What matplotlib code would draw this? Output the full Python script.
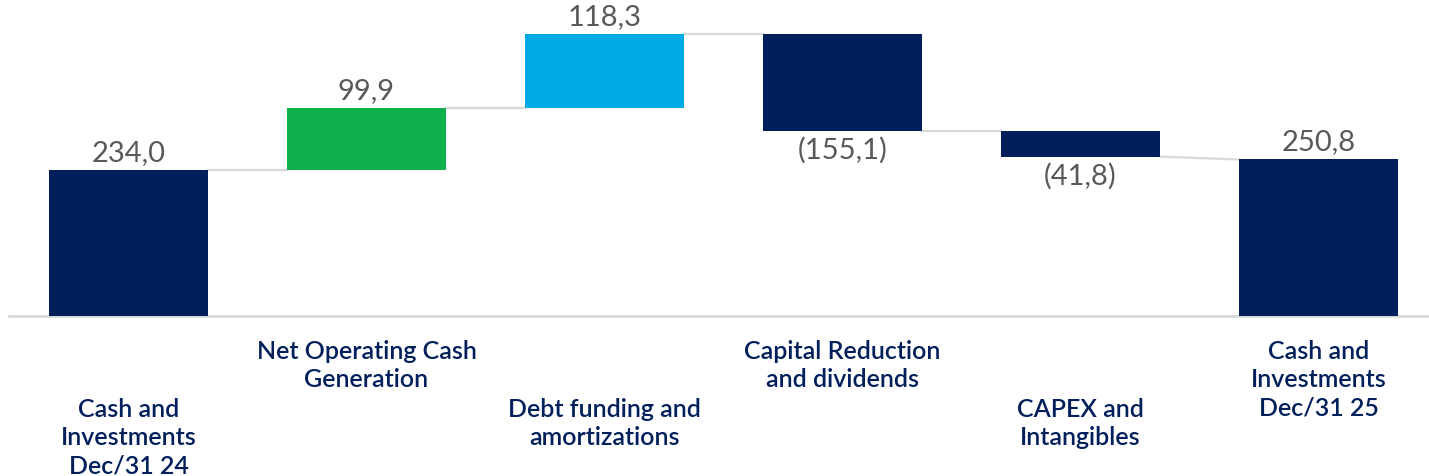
import matplotlib.pyplot as plt
import matplotlib.transforms as mtransforms

categories = ['Cash and\nInvestments\nDec/31 24', 'Net Operating Cash\nGeneration',
              'Debt funding and\namortizations', 'Capital Reduction\nand dividends',
              'CAPEX and\nIntangibles', 'Cash and\nInvestments\nDec/31 25']
values = [234.0, 99.9, 118.3, -155.1, -41.8, 250.8]
labels = ['234,0', '99,9', '118,3', '(155,1)', '(41,8)', '250,8']
is_total = [True, False, False, False, False, True]
colors = ['#001F5B', '#0DB04B', '#00AAE4', '#001F5B', '#001F5B', '#001F5B']

plt.rcParams['font.family'] = ['Lato', 'DejaVu Sans']

fig = plt.figure(figsize=(14.29, 4.77), dpi=100)
ax = fig.add_axes([0, 0, 1, 1])

width = 0.668
running = 0
bottoms, tops = [], []
for i, v in enumerate(values):
    if is_total[i]:
        b, t = 0, v
        running = v
    else:
        b = running if v >= 0 else running + v
        t = running + v if v >= 0 else running
        running += v
    bottoms.append(b)
    tops.append(t)
    ax.bar(i, t - b, bottom=b, width=width, color=colors[i], zorder=3)

# connector lines
ends = []
running = 0
for i, v in enumerate(values):
    running = v if is_total[i] else running + v
    ends.append(running)
for i in range(len(values) - 1):
    start = ends[i]
    nxt = values[i + 1] if is_total[i + 1] else ends[i]
    ax.plot([i + width / 2, i + 1 - width / 2], [start, nxt], color='#D9D9D9', lw=1.6, zorder=2)

# value labels
for i, v in enumerate(values):
    if v >= 0:
        ax.text(i, tops[i] + 8, labels[i], ha='center', va='bottom', fontsize=21, color='#595959')
    else:
        ax.text(i, bottoms[i] - 8, labels[i], ha='center', va='top', fontsize=21, color='#595959')

# baseline
ax.axhline(0, xmin=9 / 1429, xmax=1, color='#D9D9D9', lw=2, zorder=1)

# category labels, alternating height
trans = mtransforms.blended_transform_factory(ax.transData, fig.transFigure)
for i, c in enumerate(categories):
    ypix = 340 if i % 2 == 1 else 398
    ax.text(i, 1 - ypix / 477, c, transform=trans, ha='center', va='top', fontsize=18,
            color='#001F5B', fontweight='semibold', linespacing=1.28)

ax.set_xlim(-0.54, 5.464)
ax.set_ylim(-256.4, 508.0)
ax.axis('off')

fig.savefig('out.png', dpi=100)
